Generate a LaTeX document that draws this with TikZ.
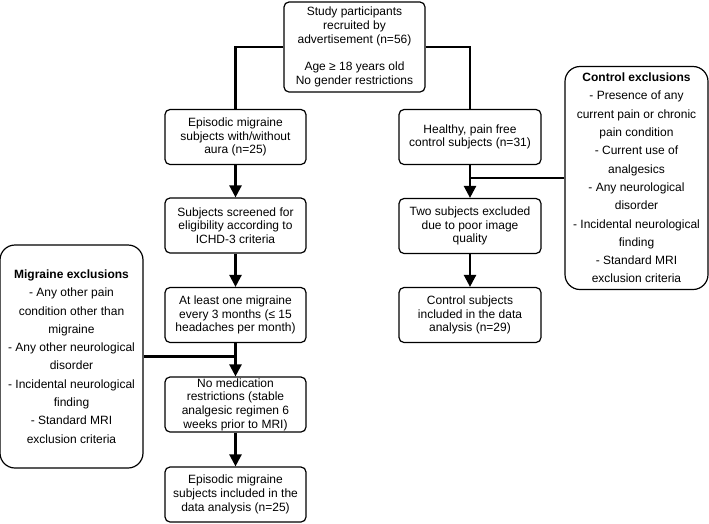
\documentclass[tikz,border=0pt]{standalone}
\usepackage{fontspec}
\setmainfont{Liberation Sans}
\usetikzlibrary{arrows.meta}

\tikzset{
    box/.style={draw, line width=1.2pt, rounded corners=5pt, align=center,
        inner sep=0pt, font=\fontsize{12}{13.7}\selectfont},
    exclbox/.style={draw, line width=1.2pt, rounded corners=15pt, align=center,
        inner sep=0pt, minimum width=143pt, minimum height=223pt,
        font=\fontsize{12}{18.3}\selectfont},
    link/.style={line width=2.4pt},
    flow/.style={line width=2.4pt, -{Triangle[width=12pt,length=12pt]}}
}

\begin{document}
\begin{tikzpicture}[x=1pt, y=1pt]

\useasboundingbox (0,0) rectangle (709,-523);

% Recruitment
\node[box, minimum width=141pt, minimum height=90pt] (recruit) at (354.5,-47)
    {Study participants\\ recruited by\\ advertisement (n=56)\\[13.7pt]
     Age \char"2265{} 18 years old\\ No gender restrictions};

% Migraine branch
\begin{scope}[every node/.append style={minimum width=141pt, minimum height=55pt}]
    \node[box] (migraine) at (235.5,-137)   {Episodic migraine\\ subjects with/without\\ aura (n=25)};
    \node[box] (screen)   at (235.5,-225.5) {Subjects screened for\\ eligibility according to\\ ICHD-3 criteria};
    \node[box] (attack)   at (235.5,-315)   {At least one migraine\\ every 3 months (\char"2264{} 15\\ headaches per month)};
    \node[box] (medic)    at (235.5,-404.5) {No medication\\ restrictions (stable\\ analgesic regimen 6\\ weeks prior to MRI)};
    \node[box] (miginc)   at (235.5,-494.5) {Episodic migraine\\ subjects included in the\\ data analysis (n=25)};
\end{scope}

% Control branch
\begin{scope}[every node/.append style={minimum width=142pt, minimum height=55pt}]
    \node[box] (healthy)  at (470,-137) {Healthy, pain free\\ control subjects (n=31)};
    \node[box] (quality)  at (470,-226) {Two subjects excluded\\ due to poor image\\ quality};
    \node[box] (ctrlinc)  at (470,-315) {Control subjects\\ included in the data\\ analysis (n=29)};
\end{scope}

% Exclusions
\node[exclbox] (migexcl) at (71.5,-356.5)
    {\textbf{Migraine exclusions}\\ - Any other pain\\ condition other than\\ migraine\\
     - Any other neurological\\ disorder\\ - Incidental neurological\\ finding\\
     - Standard MRI\\ exclusion criteria};
\node[exclbox] (ctrlexcl) at (636.5,-178)
    {\textbf{Control exclusions}\\ - Presence of any\\ current pain or chronic\\ pain condition\\
     - Current use of\\ analgesics\\ - Any neurological\\ disorder\\
     - Incidental neurological\\ finding\\ - Standard MRI\\ exclusion criteria};

% Connectors
\draw[link] (recruit.west) -| (migraine.north);
\draw[link] (recruit.east) -| (healthy.north);
\draw[flow] (migraine) -- (screen);
\draw[flow] (screen)   -- (attack);
\draw[flow] (attack)   -- (medic);
\draw[flow] (medic)    -- (miginc);
\draw[flow] (healthy)  -- (quality);
\draw[flow] (quality)  -- (ctrlinc);
\draw[link] (migexcl.east)  -- (migexcl.east -| attack.south);
\draw[link] (ctrlexcl.west) -- (ctrlexcl.west -| healthy.south);

\end{tikzpicture}
\end{document}
